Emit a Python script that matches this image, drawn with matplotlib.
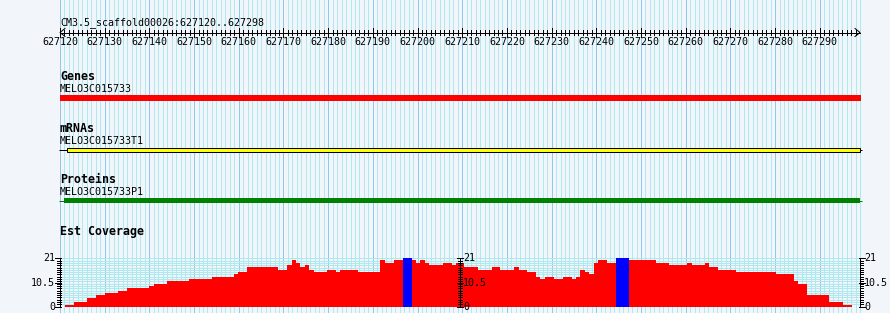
import matplotlib
matplotlib.use("Agg")
import matplotlib.pyplot as plt
import numpy as np

# ---------------- data ----------------
REGION_NAME = "CM3.5_scaffold00026"
REGION_START = 627120
REGION_END = 627298
TICK_STEP = 10

track_titles = ["Genes", "mRNAs", "Proteins", "Est Coverage"]

gene_name = "MELO3C015733"
gene_span = (627120, 627299.3)

mrna_name = "MELO3C015733T1"
mrna_span = (627119.8, 627299.4)
mrna_exon = (627121.5, 627299.1)

protein_name = "MELO3C015733P1"
protein_span = (627119.8, 627299.4)
protein_cds = (627121.0, 627299.1)

cov_starts = [627121.1, 627123.1, 627126.0, 627128.0, 627130.1, 627133.0, 627135.0,
              627139.9, 627141.0, 627143.9, 627148.9, 627154.0, 627158.9, 627159.8,
              627161.8, 627168.8, 627170.8, 627171.9, 627172.8, 627173.7, 627174.8,
              627175.7, 627176.8, 627179.7, 627181.8, 627182.7, 627186.7, 627191.6,
              627192.7, 627194.7, 627196.8, 627198.8, 627199.7, 627200.6, 627201.7,
              627202.6, 627205.7, 627207.7, 627208.6, 627210.3, 627213.6, 627216.7,
              627218.5, 627221.5, 627222.6, 627224.5, 627226.5, 627227.4, 627228.5,
              627230.5, 627232.5, 627234.6, 627235.5, 627236.4, 627237.5, 627238.4,
              627239.5, 627240.4, 627242.4, 627244.4, 627247.3, 627253.4, 627256.3,
              627260.3, 627261.4, 627264.3, 627265.2, 627267.2, 627271.3, 627280.2,
              627284.2, 627285.1, 627287.2, 627292.1, 627295.2]
cov_values = [0.73, 1.9, 3.6, 4.96, 5.8, 6.7, 8.0,
              8.9, 9.8, 11.1, 12.0, 12.8, 14.1, 15.0,
              17.2, 15.9, 18.1, 20.3, 19.0, 17.2, 18.1,
              15.9, 15.0, 15.9, 15.0, 15.9, 15.0, 20.3,
              19.0, 20.3, 22.0, 20.3, 19.0, 20.3, 19.0,
              18.1, 19.0, 18.1, 19.0, 17.2, 15.9, 17.2,
              15.9, 17.2, 15.9, 15.0, 12.8, 12.0, 12.8,
              12.0, 12.8, 12.0, 12.8, 15.9, 15.0, 14.1,
              19.0, 20.3, 19.0, 22.0, 20.3, 19.0, 18.1,
              19.0, 18.1, 19.0, 17.2, 15.9, 15.0, 14.1,
              11.1, 9.8, 4.96, 1.9, 0.73]
cov_end = 627297.2
COV_MAX = 21
cov_axis_labels = [0, 10.5, 21]

# ---------------- style ----------------
W, H = 890, 313
BG = "#f2f5fa"
MINOR = "#aee9ef"
MAJOR = "#8ec8ee"
RED = "#ff0000"
BLUE = "#0000ff"
YELLOW = "#ffff00"
GREEN = "#008000"
PX = 0.72  # one pixel in points
SMALL = dict(family="DejaVu Sans Mono", fontsize=7.2, color="black")
BOLD = dict(family="DejaVu Sans Mono", fontsize=8.4, fontweight="bold", color="black")

fig = plt.figure(figsize=(W / 100, H / 100), dpi=100, facecolor=BG)
ax = fig.add_axes([0, 0, 1, 1])
ax.set_facecolor(BG)
L_PX, R_PX = 60, 860
ppb = (R_PX - L_PX) / (REGION_END + 1 - REGION_START)
ax.set_xlim(REGION_START - L_PX / ppb, REGION_START + (W - L_PX) / ppb)
ax.set_ylim(H, 0)
ax.axis("off")

# grid
pos = np.arange(REGION_START, REGION_END + 2)
is_major = (pos - REGION_START) % TICK_STEP == 0
ax.vlines(pos[~is_major], 0, H, color=MINOR, lw=PX, zorder=0, antialiased=False)
ax.vlines(pos[is_major], 0, H, color=MAJOR, lw=PX, zorder=0.5, antialiased=False)

# ruler
RY = 32.5
ax.text(REGION_START, 25, f"{REGION_NAME}:{REGION_START}..{REGION_END}", ha="left",
        va="baseline", **SMALL)
ax.hlines(RY, REGION_START, REGION_END + 1, color="black", lw=PX, antialiased=False)
ax.vlines(pos[~is_major][:-1], RY - 2.5, RY + 2.5, color="black", lw=PX, antialiased=False)
ax.vlines(pos[is_major], RY - 4.5, RY + 4.5, color="black", lw=PX, antialiased=False)
a = 5 / ppb
ax.plot([REGION_START + a, REGION_START, REGION_START + a], [RY - 4, RY, RY + 4],
        color="black", lw=PX)
ax.plot([REGION_END + 1 - a, REGION_END + 1, REGION_END + 1 - a], [RY - 4, RY, RY + 4],
        color="black", lw=PX)
for p in pos[is_major]:
    ax.text(p, 45, str(p), ha="center", va="baseline", **SMALL)

# track titles
for t, yb in zip(track_titles, [80, 132, 183, 235]):
    ax.text(REGION_START, yb, t, ha="left", va="baseline", **BOLD)

# genes
ax.text(REGION_START, 92, gene_name, ha="left", va="baseline", **SMALL)
ax.barh(98, gene_span[1] - gene_span[0], left=gene_span[0], height=6, color=RED,
        linewidth=0, zorder=2)

# mRNAs
ax.text(REGION_START, 144, mrna_name, ha="left", va="baseline", **SMALL)
ax.hlines(149.5, mrna_span[0], mrna_span[1], color="black", lw=PX, zorder=2)
ax.barh(149.5, mrna_exon[1] - mrna_exon[0], left=mrna_exon[0], height=4,
        facecolor=YELLOW, edgecolor="black", linewidth=PX, zorder=3)

# proteins
ax.text(REGION_START, 195, protein_name, ha="left", va="baseline", **SMALL)
ax.hlines(200.5, protein_span[0], protein_span[1], color=GREEN, lw=PX, zorder=2)
ax.barh(200.5, protein_cds[1] - protein_cds[0], left=protein_cds[0], height=5.6,
        color=GREEN, linewidth=0, zorder=3)

# coverage
Y0, Y1 = 306.7, 258.3
cov = fig.add_axes([L_PX / W, (H - Y0) / H, (R_PX - L_PX) / W, (Y0 - Y1) / H])
cov.patch.set_alpha(0)
cov.set_xlim(REGION_START, REGION_END + 1)
cov.set_ylim(0, COV_MAX)
cov.axis("off")
cov.hlines(np.arange(0, COV_MAX + 1), REGION_START, REGION_END + 1, color=MINOR,
           lw=PX, zorder=0, antialiased=False)
starts = np.array(cov_starts)
ends = np.append(starts[1:], cov_end)
vals = np.array(cov_values)
colors = [BLUE if v > COV_MAX else RED for v in vals]
cov.bar(starts, np.minimum(vals, COV_MAX), width=ends - starts, align="edge",
        color=colors, linewidth=0, zorder=2)

# y axes (left, middle, right)
mid = (REGION_START + REGION_END + 1) / 2
axes_spec = [
    (REGION_START, (-3, 0.5), (-5, 1), -5, "right"),
    (mid, (-2, 2), (-3, 3), 3, "left"),
    (REGION_END + 1, (-0.5, 3), (-1, 5), 4, "left"),
]
minor_ticks = np.arange(0, COV_MAX + 1)
for x, mn, mj, off, ha in axes_spec:
    cov.vlines(x, 0, COV_MAX, color="black", lw=PX, zorder=4, clip_on=False,
               antialiased=False)
    cov.hlines(minor_ticks, x + mn[0] / ppb, x + mn[1] / ppb, color="black", lw=PX,
               zorder=4, clip_on=False, antialiased=False)
    cov.hlines(cov_axis_labels, x + mj[0] / ppb, x + mj[1] / ppb, color="black",
               lw=PX, zorder=4, clip_on=False, antialiased=False)
    for v in cov_axis_labels:
        cov.text(x + off / ppb, v, f"{v:g}", ha=ha, va="center", **SMALL)

fig.savefig("out.png", dpi=100, facecolor=BG)
